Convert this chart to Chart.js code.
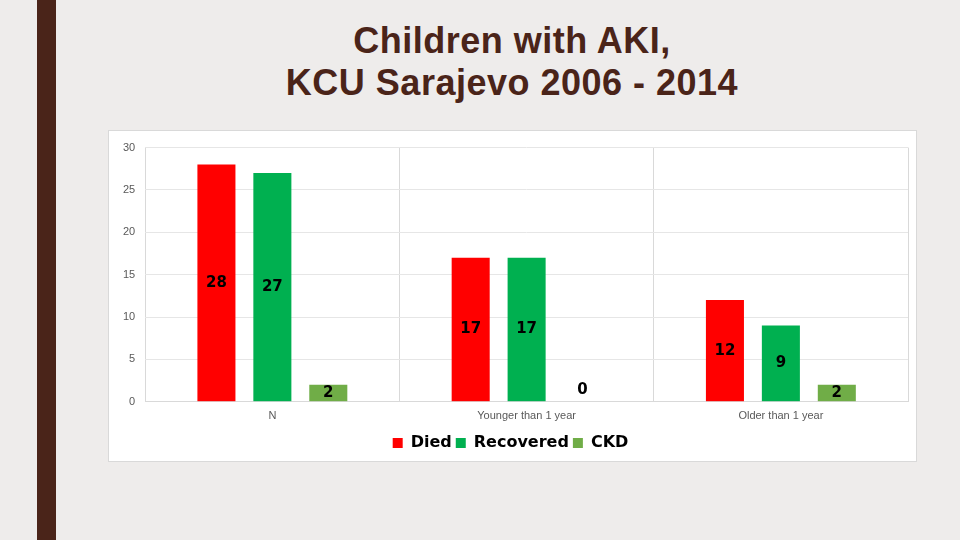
<!DOCTYPE html>
<html><head><meta charset="utf-8">
<script src="https://cdn.jsdelivr.net/npm/chart.js@4"></script>
<style>
body{margin:0;width:960px;height:540px;background:#eeeceb;position:relative;overflow:hidden;font-family:"Liberation Sans",Arial,sans-serif}
#bar{position:absolute;left:37px;top:0;width:19px;height:540px;background:#4a2419}
#title{position:absolute;left:212px;width:600px;top:20px;text-align:center;color:#4a2419;font-size:36px;line-height:42px;font-weight:bold;letter-spacing:0.5px}
#panel{position:absolute;left:108px;top:130px;width:809px;height:332px;background:#fff;border:1px solid #d9d9d9;box-sizing:border-box}
</style></head><body>
<div id="bar"></div>
<div id="title">Children with AKI,<br>KCU Sarajevo 2006 - 2014</div>
<div id="panel"><canvas id="c" width="809" height="332"></canvas></div>
<script>
const categories = ['N', 'Younger than 1 year', 'Older than 1 year'];
const died = [28, 17, 12];
const recovered = [27, 17, 9];
const ckd = [2, 0, 2];

const labelPlugin = {
  id: 'labels',
  afterDatasetsDraw(chart) {
    const ctx = chart.ctx;
    ctx.save();
    ctx.font = 'bold 15px "DejaVu Sans", sans-serif';
    ctx.fillStyle = '#000';
    ctx.textAlign = 'center';
    ctx.textBaseline = 'middle';
    chart.data.datasets.forEach((ds, i) => {
      chart.getDatasetMeta(i).data.forEach((bar, j) => {
        const y = (bar.y + bar.base) / 2 + (ds.data[j] === 0 ? -12 : 0);
        ctx.fillText(ds.data[j], bar.x, y);
      });
    });
    ctx.restore();
  }
};

new Chart(document.getElementById('c'), {
  type: 'bar',
  data: {
    labels: categories,
    datasets: [
      { label: 'Died', data: died, backgroundColor: '#ff0000' },
      { label: 'Recovered', data: recovered, backgroundColor: '#00b050' },
      { label: 'CKD', data: ckd, backgroundColor: '#70ad47' }
    ]
  },
  options: {
    responsive: false,
    animation: false,
    layout: { padding: { left: 4, right: 10, top: 6, bottom: 2 } },
    datasets: { bar: { categoryPercentage: 0.66, barPercentage: 0.68 } },
    scales: {
      x: {
        grid: { offset: true, color: '#d9d9d9', drawTicks: false },
        border: { color: '#d9d9d9' },
        ticks: { color: '#595959', font: { size: 11 }, padding: 8 }
      },
      y: {
        min: 0, max: 30,
        ticks: { stepSize: 5, color: '#595959', font: { size: 11 }, padding: 10 },
        grid: { color: '#e6e6e6', drawTicks: false },
        border: { display: false }
      }
    },
    plugins: {
      tooltip: { enabled: false },
      legend: {
        position: 'bottom',
        labels: { boxWidth: 10, boxHeight: 10, padding: 4, color: '#000', font: { size: 16, weight: 'bold', family: '"DejaVu Sans", sans-serif' } }
      }
    }
  },
  plugins: [labelPlugin]
});
</script>
</body></html>
